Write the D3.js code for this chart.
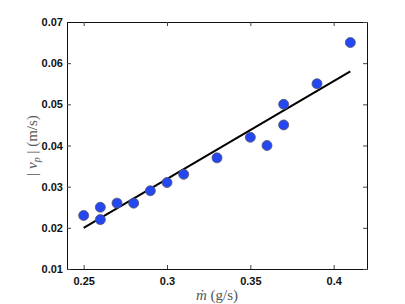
<!DOCTYPE html>
<head>
    <meta charset="utf-8">
    <script src='https://d3js.org/d3.v7.min.js'></script>
    <style>
        body { margin: 0; background: white; }
        .tick text { font-family: 'Liberation Sans', Arial, sans-serif; font-weight: bold; font-size: 11px; fill: #111; }
        text.lbl, text.lbl tspan { font-family: 'Liberation Serif', 'DejaVu Serif', serif; font-size: 15px; fill: #555; }
    </style>
</head>
<body>
<script>
//DATA
var mdot = [0.25, 0.26, 0.26, 0.27, 0.28, 0.29, 0.30, 0.31, 0.33, 0.35, 0.36, 0.37, 0.37, 0.39, 0.41];
var vp   = [0.023, 0.025, 0.022, 0.026, 0.026, 0.029, 0.031, 0.033, 0.037, 0.042, 0.040, 0.050, 0.045, 0.055, 0.065];
var fitX = [0.25, 0.41];
var fitY = [0.020, 0.058];
var xTicks = [0.25, 0.3, 0.35, 0.4];
var yTicks = [0.01, 0.02, 0.03, 0.04, 0.05, 0.06, 0.07];

//WINDOW
var W = 405, H = 304;
var m = {l: 67, r: 38, t: 22, b: 35};
var svg = d3.select('body').append('svg').attr('width', W).attr('height', H);

var x = d3.scaleLinear().domain([0.24, 0.42]).range([m.l, W - m.r]);
var y = d3.scaleLinear().domain([0.01, 0.07]).range([H - m.b, m.t]);

//AXES (ticks pointing in, mirrored)
var fx = d => String(+d.toFixed(2));
svg.append('g').attr('transform', 'translate(0,' + (H - m.b) + ')')
    .call(d3.axisBottom(x).tickValues(xTicks).tickSizeInner(-4).tickSizeOuter(0).tickPadding(8).tickFormat(fx));
svg.append('g').attr('transform', 'translate(' + m.l + ',0)')
    .call(d3.axisLeft(y).tickValues(yTicks).tickSizeInner(-4).tickSizeOuter(0).tickPadding(4).tickFormat(d3.format('.2f')));
svg.append('g').attr('transform', 'translate(0,' + m.t + ')')
    .call(d3.axisTop(x).tickValues(xTicks).tickSizeInner(-4).tickSizeOuter(0).tickFormat(''));
svg.append('g').attr('transform', 'translate(' + (W - m.r) + ',0)')
    .call(d3.axisRight(y).tickValues(yTicks).tickSizeInner(-4).tickSizeOuter(0).tickFormat(''));
svg.selectAll('.domain').attr('stroke', '#111');
svg.selectAll('.tick line').attr('stroke', '#444');

//FIT
svg.append('path')
    .datum(d3.zip(fitX, fitY))
    .attr('d', d3.line().x(d => x(d[0])).y(d => y(d[1])))
    .attr('stroke', 'black').attr('stroke-width', 2).attr('fill', 'none');

//POINTS
svg.selectAll('circle').data(d3.zip(mdot, vp)).enter()
    .append('circle')
    .attr('cx', d => x(d[0])).attr('cy', d => y(d[1])).attr('r', 5)
    .attr('fill', '#2447f2').attr('stroke', '#556').attr('stroke-width', 0.8);

//LABELS
var xl = svg.append('text').attr('class', 'lbl').attr('text-anchor', 'middle')
    .attr('x', (m.l + W - m.r) / 2).attr('y', H - 4);
xl.append('tspan').attr('font-style', 'italic').text('ṁ');
xl.append('tspan').text(' (g/s)');

var yl = svg.append('text').attr('class', 'lbl').attr('text-anchor', 'middle')
    .attr('transform', 'translate(37,' + ((m.t + H - m.b) / 2) + ') rotate(-90)');
yl.append('tspan').text('| ');
yl.append('tspan').attr('font-style', 'italic').text('v');
yl.append('tspan').attr('font-style', 'italic').style('font-size', '10px').attr('dy', 3).text('p');
yl.append('tspan').attr('dy', -3).text(' | (m/s)');
</script>
</body>
